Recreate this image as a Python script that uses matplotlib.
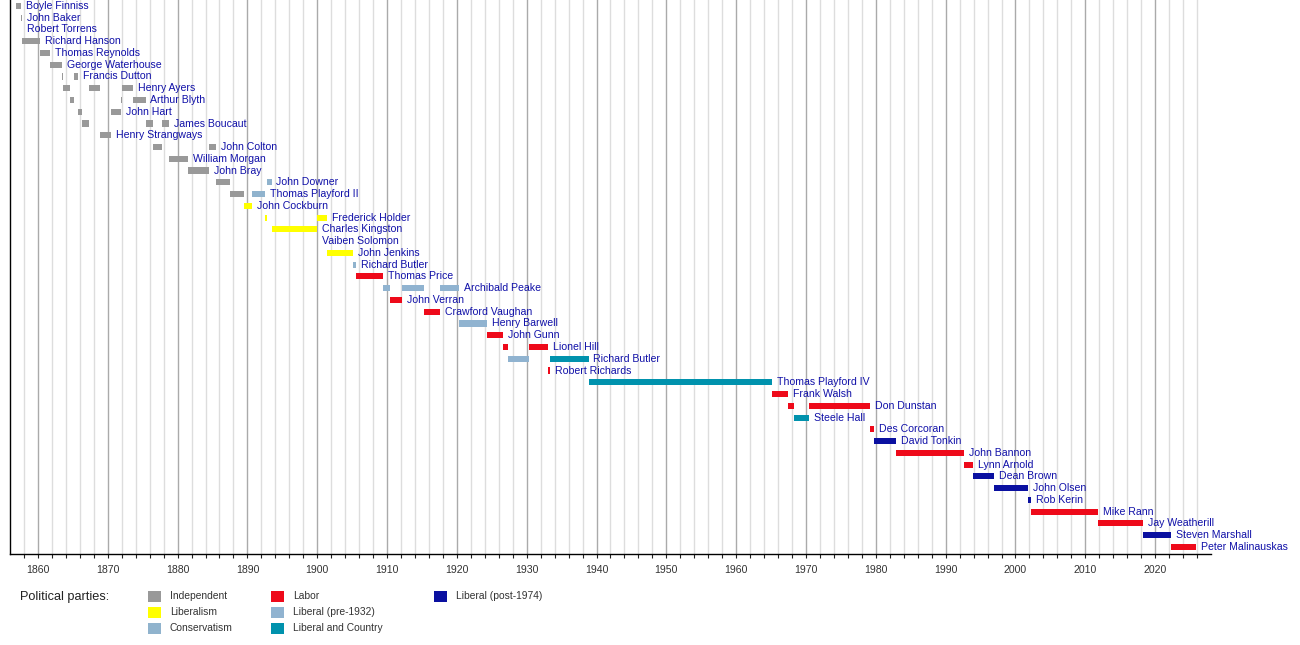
import matplotlib
matplotlib.use("Agg")
import matplotlib.pyplot as plt
from matplotlib.patches import Rectangle

# ---------------- Data (years) ----------------
premiers = [
    "Boyle Finniss", "John Baker", "Robert Torrens", "Richard Hanson",
    "Thomas Reynolds", "George Waterhouse", "Francis Dutton", "Henry Ayers",
    "Arthur Blyth", "John Hart", "James Boucaut", "Henry Strangways",
    "John Colton", "William Morgan", "John Bray", "John Downer",
    "Thomas Playford II", "John Cockburn", "Frederick Holder", "Charles Kingston",
    "Vaiben Solomon", "John Jenkins", "Richard Butler", "Thomas Price",
    "Archibald Peake", "John Verran", "Crawford Vaughan", "Henry Barwell",
    "John Gunn", "Lionel Hill", "Richard Butler", "Robert Richards",
    "Thomas Playford IV", "Frank Walsh", "Don Dunstan", "Steele Hall",
    "Des Corcoran", "David Tonkin", "John Bannon", "Lynn Arnold",
    "Dean Brown", "John Olsen", "Rob Kerin", "Mike Rann",
    "Jay Weatherill", "Steven Marshall", "Peter Malinauskas",
]

# terms per premier: (start, end, party)
terms = [
    [(1856.81, 1857.64, "IND")],
    [(1857.64, 1857.67, "IND")],
    [(1857.67, 1857.75, "IND")],
    [(1857.75, 1860.35, "IND")],
    [(1860.35, 1861.77, "IND")],
    [(1861.77, 1863.50, "IND")],
    [(1863.50, 1863.54, "IND"), (1865.22, 1865.72, "IND")],
    [(1863.54, 1864.59, "IND"), (1865.72, 1865.81, "IND"), (1867.33, 1868.73, "IND"),
     (1868.78, 1868.84, "IND"), (1872.06, 1873.56, "IND")],
    [(1864.59, 1865.22, "IND"), (1871.86, 1872.06, "IND"), (1873.56, 1875.42, "IND")],
    [(1865.81, 1866.24, "IND"), (1868.73, 1868.78, "IND"), (1870.41, 1871.86, "IND")],
    [(1866.24, 1867.33, "IND"), (1875.42, 1876.43, "IND"), (1877.82, 1878.74, "IND")],
    [(1868.84, 1870.41, "IND")],
    [(1876.43, 1877.82, "IND"), (1884.46, 1885.46, "IND")],
    [(1878.74, 1881.48, "IND")],
    [(1881.48, 1884.46, "IND")],
    [(1885.46, 1887.44, "IND"), (1892.79, 1893.46, "CON")],
    [(1887.44, 1889.49, "IND"), (1890.63, 1892.47, "CON")],
    [(1889.49, 1890.63, "LIB")],
    [(1892.47, 1892.79, "LIB"), (1899.94, 1901.37, "LIB")],
    [(1893.46, 1899.92, "LIB")],
    [(1899.92, 1899.94, "CON")],
    [(1901.37, 1905.17, "LIB")],
    [(1905.17, 1905.57, "CON")],
    [(1905.57, 1909.43, "ALP")],
    [(1909.43, 1910.42, "LPRE"), (1912.13, 1915.25, "LPRE"), (1917.53, 1920.27, "LPRE")],
    [(1910.42, 1912.13, "ALP")],
    [(1915.25, 1917.53, "ALP")],
    [(1920.27, 1924.29, "LPRE")],
    [(1924.29, 1926.65, "ALP")],
    [(1926.65, 1927.27, "ALP"), (1930.29, 1933.12, "ALP")],
    [(1927.27, 1930.29, "LPRE"), (1933.30, 1938.85, "LCL")],
    [(1933.12, 1933.30, "ALP")],
    [(1938.85, 1965.19, "LCL")],
    [(1965.19, 1967.42, "ALP")],
    [(1967.42, 1968.29, "ALP"), (1970.42, 1979.12, "ALP")],
    [(1968.29, 1970.42, "LCL")],
    [(1979.12, 1979.71, "ALP")],
    [(1979.71, 1982.86, "LIBP")],
    [(1982.86, 1992.68, "ALP")],
    [(1992.68, 1993.95, "ALP")],
    [(1993.95, 1996.91, "LIBP")],
    [(1996.91, 2001.81, "LIBP")],
    [(2001.81, 2002.18, "LIBP")],
    [(2002.18, 2011.80, "ALP")],
    [(2011.80, 2018.21, "ALP")],
    [(2018.21, 2022.22, "LIBP")],
    [(2022.22, 2025.90, "ALP")],
]

party_keys = ["IND", "LIB", "CON", "ALP", "LPRE", "LCL", "LIBP"]
party_names = ["Independent", "Liberalism", "Conservatism", "Labor",
               "Liberal (pre-1932)", "Liberal and Country", "Liberal (post-1974)"]
party_colors = ["#999999", "#ffff00", "#90b3cd", "#ee0a1a",
                "#90b3d0", "#0092ad", "#0a10a0"]

year_ticks = list(range(1860, 2021, 10))

# ---------------- Figure ----------------
W, H = 1300, 645
plt.rcParams["font.family"] = ["Liberation Sans", "DejaVu Sans"]
fig = plt.figure(figsize=(W / 100, H / 100), dpi=100)


def fx(px):
    return px / W


def fy(py):
    return 1 - py / H


ax = fig.add_axes([fx(10), fy(554), fx(1211) - fx(10), fy(0) - fy(554)])
ax.set_xlim(1856, 2028)
ax.set_ylim(46.6, -0.5)

color_of = dict(zip(party_keys, party_colors))

# gridlines: light every 2 years, darker every decade
for yr in range(1858, 2028, 2):
    major = yr % 10 == 0
    ax.axvline(yr, color="#aaaaaa" if major else "#dddddd", lw=1.0, zorder=0)

bar_h = 0.52
for i, (name, tlist) in enumerate(zip(premiers, terms)):
    for s, e, p in tlist:
        ax.barh(i, e - s, left=s, height=bar_h, color=color_of[p],
                edgecolor="none", zorder=2)
    last_end = tlist[-1][1]
    ax.text(last_end + 0.7, i, name, color="#1010a8", fontsize=7.6,
            va="center", ha="left", zorder=3)

ax.set_xticks(year_ticks)
ax.set_xticks(range(1858, 2028, 2), minor=True)
ax.tick_params(axis="x", which="both", direction="out", length=3, width=0.8,
               color="#222222", labelsize=7.6, labelcolor="#333333", pad=5)
ax.set_yticks([])
for side in ["top", "right"]:
    ax.spines[side].set_visible(False)
ax.spines["left"].set_color("#000000")
ax.spines["bottom"].set_color("#000000")
ax.spines["left"].set_linewidth(1.0)
ax.spines["bottom"].set_linewidth(1.0)

# ---------------- Legend ----------------
fig.text(fx(20), fy(597), "Political parties:", fontsize=9.2, color="#222222",
         va="center", ha="left")
cols_px = [148, 271, 434]
rows_py = [596, 612, 628]
for k, (pname, pcol) in enumerate(zip(party_names, party_colors)):
    c, r = k // 3, k % 3
    x0, yc = cols_px[c], rows_py[r]
    fig.add_artist(Rectangle((fx(x0), fy(yc + 6)), fx(13), 11 / H,
                             transform=fig.transFigure, facecolor=pcol,
                             edgecolor="none"))
    fig.text(fx(x0 + 22), fy(yc), pname, fontsize=7.4, color="#333333",
             va="center", ha="left")

fig.savefig("out.png", dpi=100)
